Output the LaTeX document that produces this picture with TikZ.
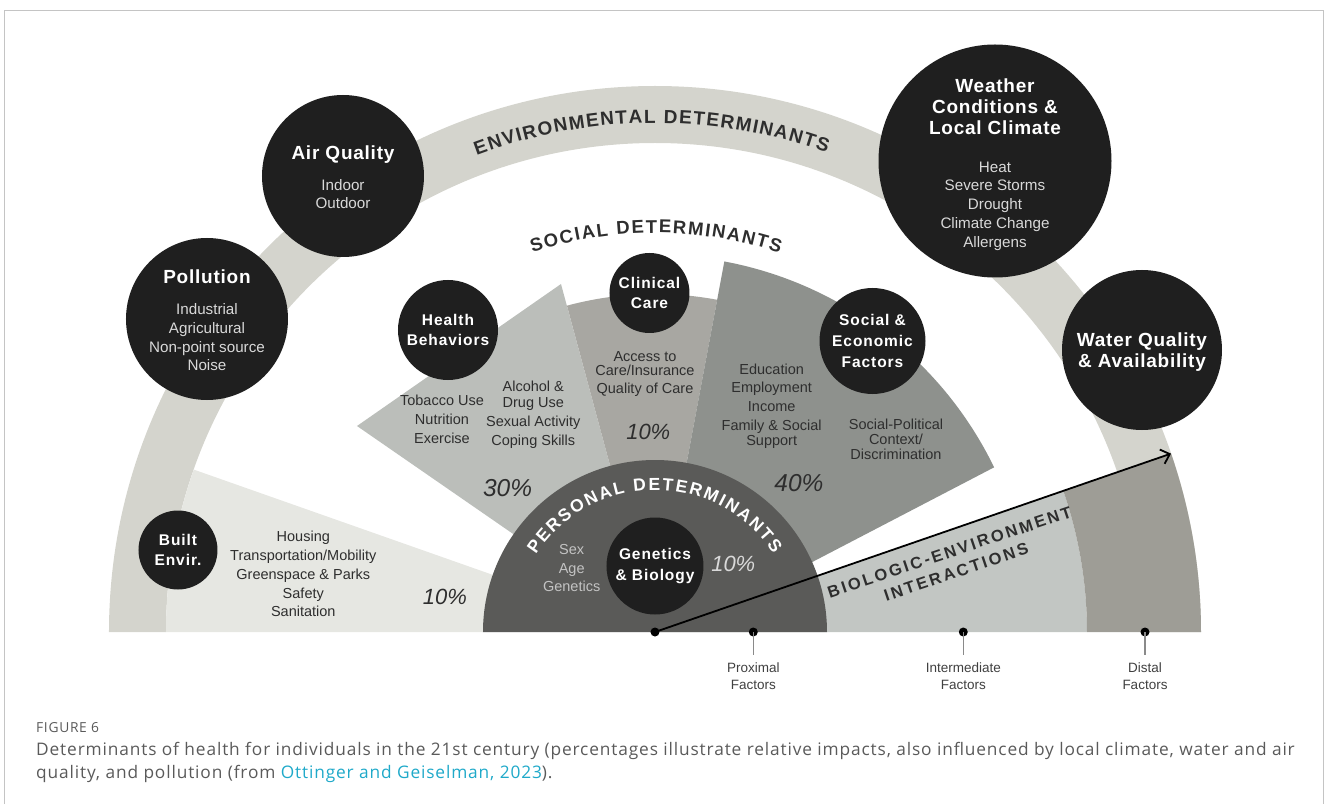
\documentclass[tikz,border=0pt]{standalone}
\usepackage{fontspec}
\setmainfont{Liberation Sans}
\newfontfamily\headfam{Liberation Sans}[LetterSpace=4]
\newfontfamily\subfam{Liberation Sans}[LetterSpace=6]
\newfontfamily\biofam{Liberation Sans}[LetterSpace=15]
\newfontfamily\capfam{Open Sans}[LetterSpace=5]
\usetikzlibrary{arrows.meta}
\usetikzlibrary{decorations.text}

\definecolor{framegray}{HTML}{C4C4C4}
\definecolor{bandgray}{HTML}{D4D4CD}
\definecolor{builtgray}{HTML}{E6E7E2}
\definecolor{healthgray}{HTML}{BBBEBA}
\definecolor{clinicgray}{HTML}{A8A7A2}
\definecolor{socialgray}{HTML}{8E918D}
\definecolor{biogray}{HTML}{C2C6C3}
\definecolor{distalgray}{HTML}{9E9D96}
\definecolor{personalgray}{HTML}{5A5A58}
\definecolor{discblack}{HTML}{1F1F1F}
\definecolor{itemgray}{HTML}{D9D9D9}
\definecolor{wedgetext}{HTML}{2E2E2E}
\definecolor{labelgray}{HTML}{404040}
\definecolor{tickgray}{HTML}{8A8A8A}
\definecolor{capgray}{HTML}{5A5A5A}
\definecolor{linkteal}{HTML}{1FA9C9}

\newcommand{\bighead}{\fontsize{19}{21}\headfam\bfseries\color{white}}
\newcommand{\itemsize}{\fontsize{15.2}{18.7}\selectfont}
\newcommand{\wedgesize}{\fontsize{14.5}{18.7}\selectfont}

\begin{document}
\begin{tikzpicture}[x=1pt,y=1pt,
    disc/.style={circle, fill=discblack, inner sep=0pt, align=center, text=itemgray, font=\itemsize},
    disctext/.style={align=center, inner sep=0pt, text=itemgray, font=\itemsize},
    subdisc/.style={disc, text=white, font=\fontsize{15.5}{20.6}\subfam\bfseries},
    wedgelist/.style={align=center, inner sep=0pt, text=wedgetext, font=\wedgesize},
    percent/.style={inner sep=0pt, text=wedgetext, font=\fontsize{22}{22}\selectfont\itshape},
    factor/.style={align=center, inner sep=0pt, text=labelgray, font=\fontsize{13.5}{17}\selectfont},
    dot/.style={circle, fill=black, inner sep=0pt, minimum size=9pt},
    caption/.style={anchor=base west, inner sep=0pt, text=capgray}]

    \useasboundingbox (-655,-172) rectangle (673,632);

    % Rahmen
    \draw[framegray, line width=1pt] (-650.5,-172) |- (668.5,621.5) -- (668.5,-172);

    % environmental band
    \fill[bandgray] (546,0) arc[start angle=0, end angle=180, radius=546]
        -- (-489,0) arc[start angle=180, end angle=0, radius=489] -- cycle;

    % social wedges
    \fill[builtgray] (0,0) -- (160.6:489) arc[start angle=160.6, end angle=180, radius=489] -- cycle;
    \fill[healthgray] (0,0) -- (-298,206) -- (-94,348) -- cycle;
    \fill[clinicgray] (0,0) -- (105.1:338) arc[start angle=105.1, end angle=79.4, radius=338] -- cycle;
    \fill[socialgray] (0,0) -- (79.4:377) arc[start angle=79.4, end angle=25.9, radius=377] -- (45,11.5) -- cycle;

    % biologic-environment and distal
    \fill[biogray] (0,0) -- (432,0) arc[start angle=0, end angle=19.07, radius=432] -- cycle;
    \fill[distalgray] (432,0) -- (546,0) arc[start angle=0, end angle=19.07, radius=546]
        -- (19.07:432) arc[start angle=19.07, end angle=0, radius=432] -- cycle;

    % personal
    \fill[personalgray] (172,0) arc[start angle=0, end angle=180, radius=172] -- cycle;

    % Ringtexte
    \path[decorate, decoration={text along path, text align=fit to path, text color=wedgetext,
        text={|\fontsize{19}{19}\selectfont\bfseries|ENVIRONMENTAL DETERMINANTS}}]
        (110.5:509) arc[start angle=110.5, end angle=70.3, radius=509];
    \path[decorate, decoration={text along path, text align=fit to path, text color=wedgetext,
        text={|\fontsize{18.5}{18.5}\selectfont\bfseries|SOCIAL DETERMINANTS}}]
        (107.9:399) arc[start angle=107.9, end angle=71.8, radius=399];
    \path[decorate, decoration={text along path, text align=fit to path, text color=white,
        text={|\fontsize{17.5}{17.5}\selectfont\bfseries|PERSONAL DETERMINANTS}}]
        (147:142) arc[start angle=147, end angle=33.5, radius=142];

    % Umweltkreise
    \node[disc, minimum size=162pt] (air) at (-312,456) {};
    \node[disctext] (airtext) at ([yshift=-1.5pt]air.center)
        {{\bighead Air Quality}\\[11.5pt]Indoor\\Outdoor};
    \node[disc, minimum size=162pt] (pollution) at (-448,313) {};
    \node[disctext] (pollutiontext) at ([yshift=-1.5pt]pollution.center)
        {{\bighead Pollution}\\[12.5pt]Industrial\\Agricultural\\Non-point source\\Noise};
    \node[disc, minimum size=233pt] (weather) at (340,471) {};
    \node[disctext] (weathertext) at ([yshift=-3.5pt]weather.center)
        {{\bighead Weather}\\[2.3pt]{\bighead Conditions \&}\\[2.3pt]{\bighead Local Climate}\\[19pt]Heat\\Severe Storms\\Drought\\Climate Change\\Allergens};
    \node[disc, minimum size=160pt] (water) at (487,282) {};
    \node[disctext] (watertext) at ([yshift=-2pt]water.center)
        {{\bighead Water Quality}\\[2.3pt]{\bighead \& Availability}};

    % innere Kreise
    \node[subdisc, minimum size=100pt] (health) at (-207,302) {Health\\Behaviors};
    \node[subdisc, minimum size=80pt] (clinic) at (-5.5,339) {Clinical\\Care};
    \node[subdisc, minimum size=106pt] (socio) at (217.5,291) {Social \&\\Economic\\Factors};
    \node[subdisc, minimum size=79pt] (built) at (-477,82) {Built\\Envir.};
    \node[subdisc, minimum size=97pt] (genetics) at (0,66) {Genetics\\\& Biology};

    % Listen
    \node[wedgelist] (builtlist) at (-351.7,57.8)
        {Housing\\Transportation/Mobility\\Greenspace \& Parks\\Safety\\Sanitation};
    \node[wedgelist] (healthlistA) at (-213,212.5) {Tobacco Use\\Nutrition\\Exercise};
    \node[wedgelist] (healthlistB) at (-121.7,217.5)
        {Alcohol \&\\[-2pt]Drug Use\\Sexual Activity\\Coping Skills};
    \node[wedgelist] (cliniclist) at (-10,258) {Access to\\[-4.5pt]Care/Insurance\\Quality of Care};
    \node[wedgelist] (sociolistA) at (116.7,225.8)
        {Education\\Employment\\Income\\Family \& Social\\[-3.5pt]Support};
    \node[wedgelist] (sociolistB) at (241,192.5)
        {Social-Political\\[-4pt]Context/\\[-4pt]Discrimination};
    \node[wedgelist, text=itemgray!90!black] (personallist) at (-83.3,63.7) {Sex\\Age\\Genetics};

    % Prozente
    \node[percent] (builtpct) at (-210,35.3) {10\%};
    \node[percent, font=\fontsize{24.5}{24.5}\selectfont\itshape] (healthpct) at (-147.4,143.7) {30\%};
    \node[percent] (clinicpct) at (-6.7,200.3) {10\%};
    \node[percent, font=\fontsize{24.5}{24.5}\selectfont\itshape] (sociopct) at (144,149.3) {40\%};
    \node[percent, text=itemgray] (personalpct) at (78.3,68) {10\%};

    % Pfeil
    \node[rotate=18.5, align=center, inner sep=0pt, text=wedgetext,
        font=\fontsize{16.5}{21}\biofam\bfseries] (bio) at (297.8,70)
        {BIOLOGIC-ENVIRONMENT\\INTERACTIONS};
    \node[dot] (origin) at (0,0) {};
    \coordinate (tip) at (19.07:546);
    \draw[line width=1.8pt, -{Straight Barb[length=8pt, width=15pt, line width=1.8pt]}] (origin.center) -- (tip);

    % Faktoren
    \foreach \x/\name/\lbl in {98.3/prox/Proximal, 308.3/inter/Intermediate, 490/dist/Distal}{
        \node[dot] (\name dot) at (\x,0) {};
        \node[factor] (\name) at (\x,-44.5) {\lbl\\Factors};
        \draw[tickgray, line width=1.5pt, shorten >=8pt] (\name dot.center) -- (\name.north);
    }

    % Beschriftung
    \node[caption, font=\capfam\fontsize{13.8}{16}\selectfont] (figlabel) at (-619,-100.7) {FIGURE 6};
    \node[caption, font=\capfam\fontsize{17.3}{20}\selectfont] (capone) at (-619,-123.7)
        {Determinants of health for individuals in the 21st century (percentages illustrate relative impacts, also influenced by local climate, water and air};
    \node[caption, font=\capfam\fontsize{17.3}{20}\selectfont] (captwo) at (-619,-146.3)
        {quality, and pollution (from \textcolor{linkteal}{Ottinger and Geiselman, 2023}).};
\end{tikzpicture}
\end{document}
